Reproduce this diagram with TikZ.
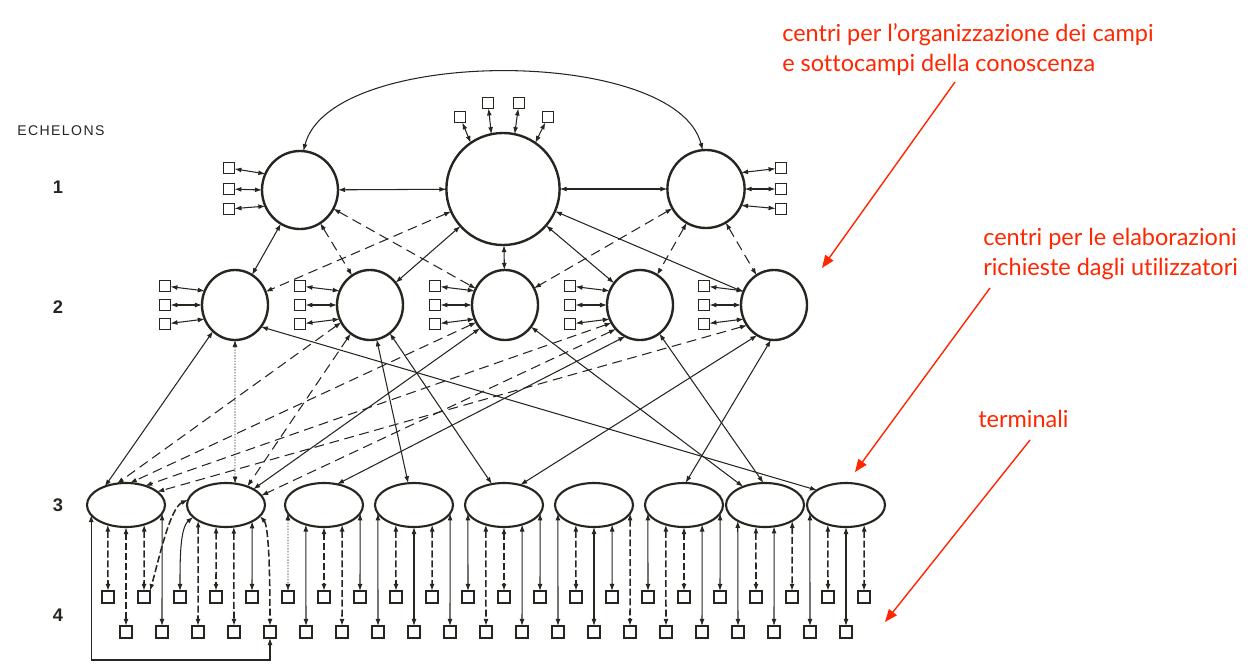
\documentclass[tikz,border=0pt]{standalone}
\usepackage{fontspec}
\setsansfont{Liberation Sans}
\newfontfamily\notefont{Lato}[Ligatures=NoCommon]
\newfontfamily\echfont{Liberation Sans}[LetterSpace=10]
\usetikzlibrary{arrows.meta,shapes.geometric}
\definecolor{ink}{RGB}{38,38,32}
\definecolor{notered}{RGB}{255,38,0}
\tikzset{
	big/.style={ellipse,draw=ink,line width=1.7pt,inner sep=0pt,outer sep=0pt},
	mid/.style={big,minimum width=1.65cm,minimum height=1.75cm},
	oval/.style={big,line width=1.5pt,minimum width=1.95cm,minimum height=1.1cm},
	pad/.style={draw=ink,line width=0.9pt,minimum size=0.27cm,inner sep=0pt,outer sep=0pt},
	term/.style={pad,line width=1pt,minimum size=0.3cm},
	link/.style={draw=ink,line width=0.75pt,{Latex[length=5pt,width=3.5pt]}-{Latex[length=5pt,width=3.5pt]}},
	dlink/.style={link,dash pattern=on 7pt off 4pt},
	flink/.style={link,line width=0.5pt,dash pattern=on 1pt off 1pt},
	tlink/.style={link,line width=1.1pt,dash pattern=on 5pt off 2pt},
	lvl/.style={font=\sffamily\bfseries\fontsize{13}{13}\selectfont,text=ink},
	note/.style={font=\notefont\fontsize{16.7}{21.3}\selectfont,text=notered,align=left,inner sep=0pt,anchor=north west},
	pointer/.style={draw=notered,line width=1pt,-{Triangle[length=9pt,width=7pt]}}
}

\begin{document}
\begin{tikzpicture}[x=0.025cm,y=-0.025cm]
	\useasboundingbox (0,0) rectangle (1248,671);
	\node[anchor=west,text=ink,font=\echfont\fontsize{10}{10}\selectfont,inner sep=0pt] (ech) at (17,131) {ECHELONS};
	\node[lvl] (n1) at (58,187) {1};
	\node[lvl] (n2) at (58,307) {2};
	\node[lvl] (n3) at (58,505) {3};
	\node[lvl] (n4) at (58,615) {4};

	\node[big,minimum width=1.9cm,minimum height=1.95cm] (L1a) at (300,190) {};
	\node[big,minimum width=2.83cm,minimum height=2.8cm] (L1b) at (503,189) {};
	\node[big,minimum width=1.93cm,minimum height=1.95cm] (L1c) at (706,189) {};
	\foreach \k/\yy/\a in {1/168/155,2/189/180,3/209/205}{
		\node[pad] (pa\k) at (229,\yy) {};
		\draw[link] (pa\k) -- (L1a.\a);
		\node[pad] (pc\k) at (781,\yy) {};
		\draw[link] (pc\k) -- (L1c.180-\a);
	}
	\foreach \k/\px/\py/\a in {1/460/117/125,2/488/103/102,3/519/103/78,4/548/117/55}{
		\node[pad] (pb\k) at (\px,\py) {};
		\draw[link] (pb\k) -- (L1b.\a);
	}
	\foreach \n/\cx in {a/235,b/370,c/505,d/640,e/774}{
		\node[mid] (L2\n) at (\cx,305) {};
		\foreach \k/\yy/\a in {1/286/155,2/305/180,3/324/205}{
			\node[pad] (q\n\k) at (\cx-70,\yy) {};
			\draw[link] (q\n\k) -- (L2\n.\a);
		}
	}
	\foreach \n/\cx in {1/126,2/226,3/324,4/414,5/504,6/594,7/684,8/765,9/846}
		\node[oval] (E\n) at (\cx,505) {};
	\foreach \j in {0,...,42}{
		\pgfmathsetmacro\sy{isodd(\j)?632:597}
		\node[term] (S\j) at (108+18*\j,\sy) {};
	}

	\draw[link] (L1a.85) .. controls (330,46) and (676,46) .. (L1c.95);
	\draw[link] (L1a) -- (L1b);
	\draw[link] (L1b) -- (L1c);
	\foreach \u/\v in {L1a/L2a,L1b/L2b,L1b/L2c,L1b/L2d,L1b/L2e}
		\draw[link] (\u) -- (\v);
	\foreach \u/\v in {L1a/L2b,L1a/L2c,L1b/L2a,L1c/L2c,L1c/L2d,L1c/L2e}
		\draw[dlink] (\u) -- (\v);

	\foreach \u/\a/\v/\b/\s in {L2a/-130/E1/139/link,L2a/-90/E2/67/flink,L2a/-40/E9/153/link,
		L2b/-149/E1/113/dlink,L2b/-124/E2/41/dlink,L2b/-79/E4/105/link,L2b/-55/E5/120/link,
		L2c/-149/E1/80/dlink,L2c/-137/E2/30/link,L2c/-40/E8/140/link,
		L2d/-148/E1/45/dlink,L2d/-135/E2/15/dlink,L2d/-115/E3/58/link,L2d/-56/E8/94/link,
		L2e/-143/E1/23/dlink,L2e/-119/E5/51/link,L2e/-95/E7/86/link}
		\draw[\s] (\u.\a) -- (\v.\b);

	\foreach \j/\e/\cx/\s in {0/E1/126/tlink,1/E1/126/tlink,2/E1/126/tlink,3/E1/126/link,
		5/E2/226/tlink,6/E2/226/tlink,7/E2/226/tlink,8/E2/226/link,
		10/E3/324/flink,11/E3/324/link,12/E3/324/tlink,13/E3/324/tlink,14/E3/324/link,
		15/E4/414/link,16/E4/414/tlink,17/E4/414/link,18/E4/414/tlink,19/E4/414/link,
		20/E5/504/link,21/E5/504/tlink,22/E5/504/tlink,23/E5/504/link,24/E5/504/link,
		25/E6/594/link,26/E6/594/tlink,27/E6/594/link,28/E6/594/link,29/E6/594/tlink,
		30/E7/684/link,31/E7/684/tlink,32/E7/684/tlink,33/E7/684/link,34/E7/684/link,
		35/E8/765/link,36/E8/765/tlink,37/E8/765/link,38/E8/765/tlink,
		39/E9/846/link,40/E9/846/tlink,41/E9/846/link,42/E9/846/tlink}{
		\pgfmathtruncatemacro\ang{round(atan2(-22*sqrt(1-((108+18*\j-\cx)/39)^2),108+18*\j-\cx))}
		\draw[\s] (\e.\ang) -- (S\j.north);
	}
	\draw[tlink] (E2.172) .. controls (170,508) and (160,555) .. (S2.north east);
	\draw[link] (E2.-160) .. controls (180,528) and (180,560) .. (S4.north);
	\draw[tlink] (E2.-18) .. controls (268,525) and (270,560) .. (S9.north);
	\draw[link] (E1.-164) |- (S9.south |- 0,660) -- (S9.south);

	\node[note] (t1) at (782,23) {centri per l’organizzazione dei campi\\e sottocampi della conoscenza};
	\node[note] (t2) at (983,228) {centri per le elaborazioni\\richieste dagli utilizzatori};
	\node[note] (t3) at (978,410) {terminali};
	\coordinate (r1) at (955,82);
	\coordinate (r1e) at (822,268);
	\coordinate (r2) at (990,288);
	\coordinate (r2e) at (855,472);
	\coordinate (r3) at (1030,440);
	\coordinate (r3e) at (885,622);
	\draw[pointer] (r1) -- (r1e);
	\draw[pointer] (r2) -- (r2e);
	\draw[pointer] (r3) -- (r3e);
\end{tikzpicture}
\end{document}
